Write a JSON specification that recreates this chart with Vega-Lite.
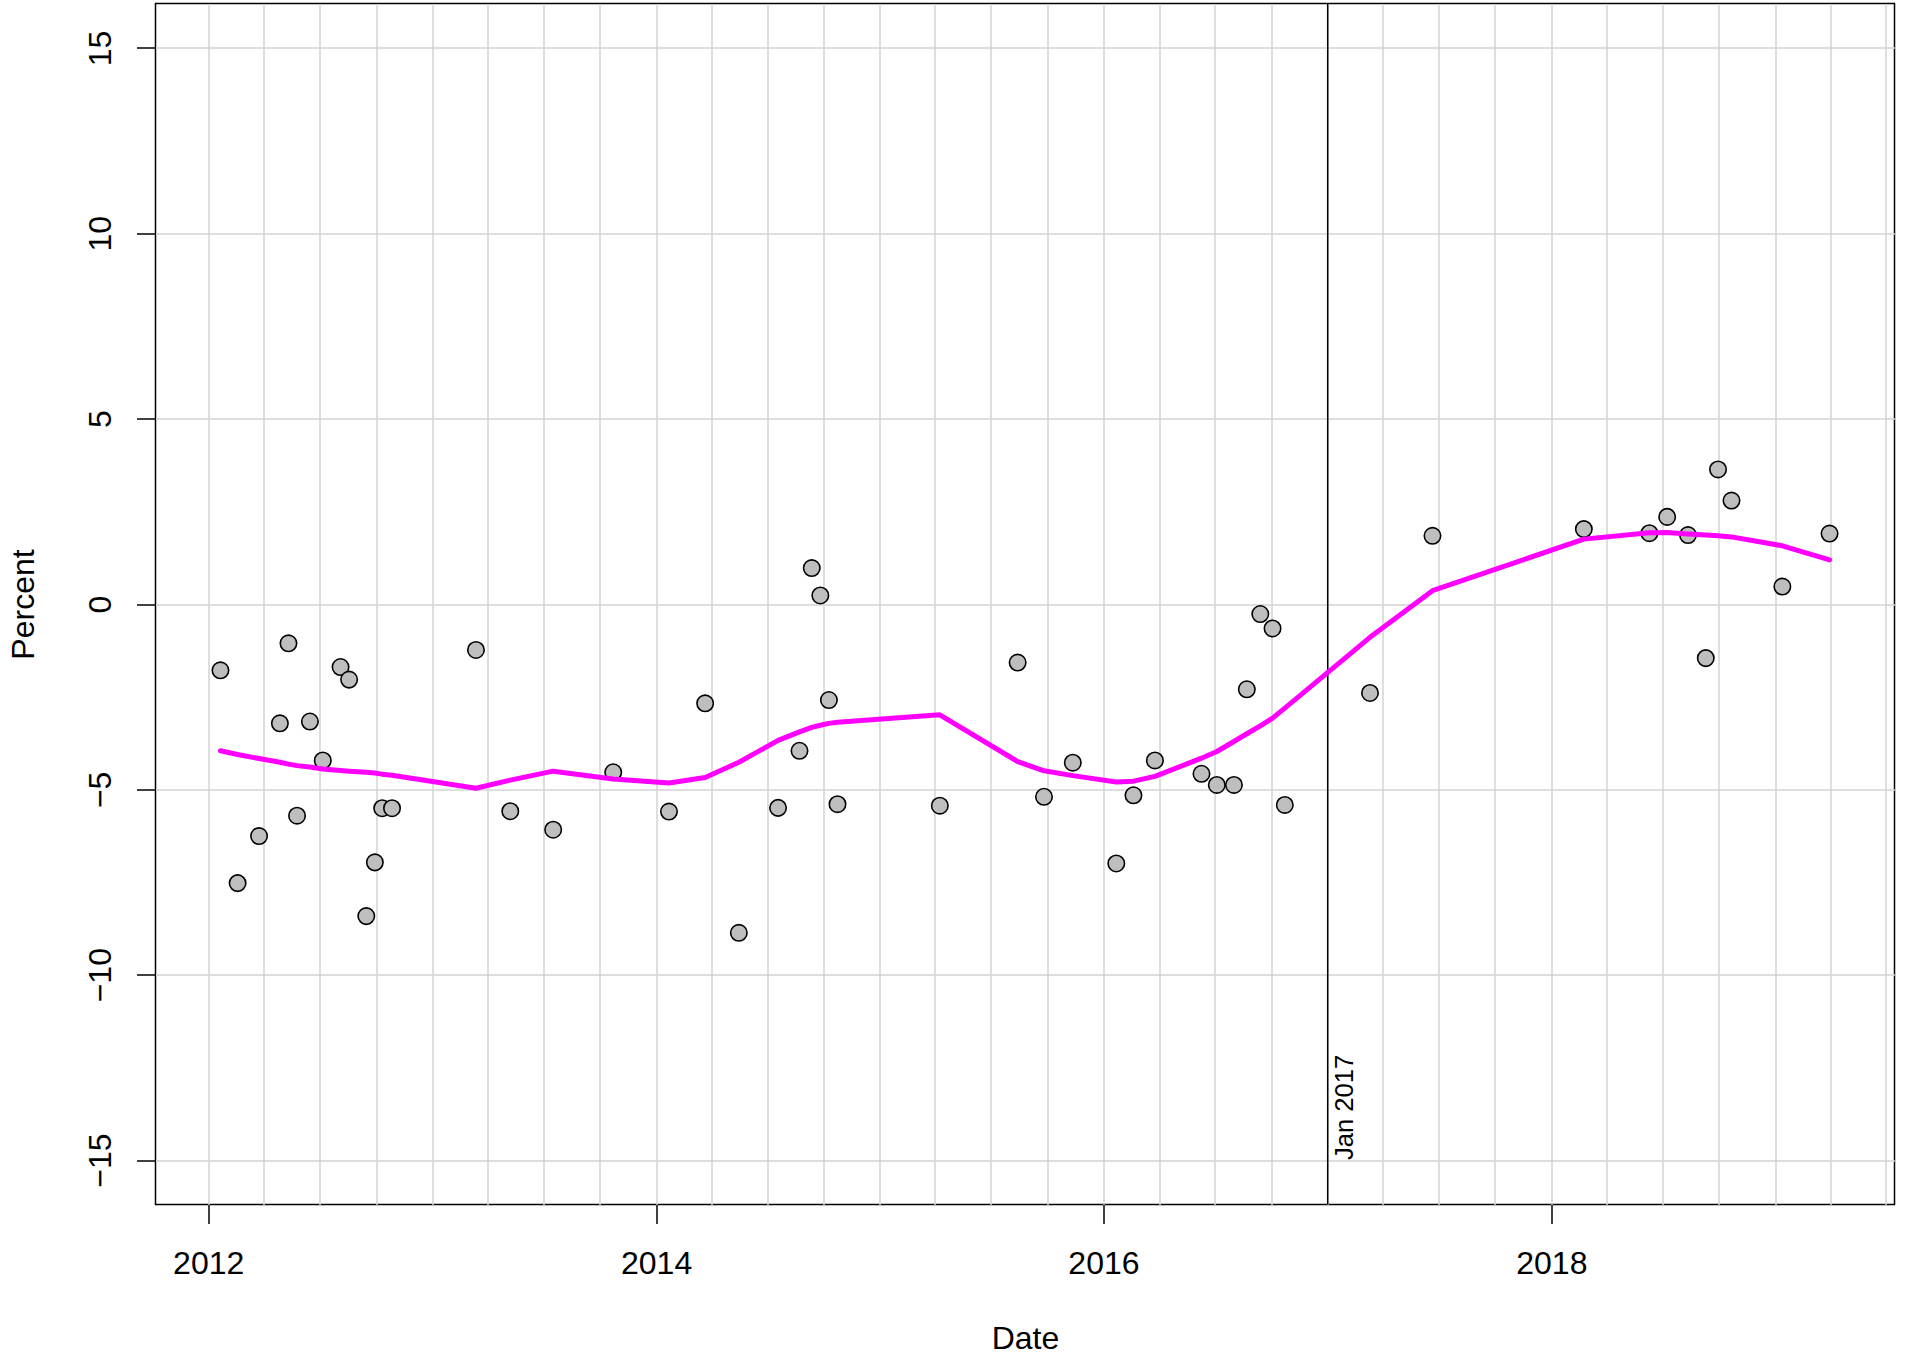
{
  "$schema": "https://vega.github.io/schema/vega-lite/v6.json",
  "width": 1739,
  "height": 1201,
  "autosize": "none",
  "padding": {"left": 155.5, "top": 3.5, "right": 10.5, "bottom": 151.5},
  "background": "white",
  "config": {
    "view": {"stroke": "black", "strokeWidth": 1.5},
    "font": "Liberation Sans",
    "axis": {
      "labelFont": "Liberation Sans",
      "titleFont": "Liberation Sans",
      "labelColor": "black",
      "titleColor": "black",
      "labelFontSize": 32,
      "titleFontSize": 32,
      "titleFontWeight": "normal",
      "tickColor": "black",
      "tickWidth": 1.5,
      "tickSize": 19,
      "domain": false,
      "gridColor": "#d3d3d3",
      "gridWidth": 1.5,
      "gridOpacity": 1,
      "labelOverlap": false,
      "labelFlush": false
    }
  },
  "datasets": {
    "obs": [
      {"date": "2012-01-21", "pct": -1.79, "fit": -3.96},
      {"date": "2012-02-18", "pct": -7.53, "fit": -4.06},
      {"date": "2012-03-24", "pct": -6.26, "fit": -4.17},
      {"date": "2012-04-27", "pct": -3.22, "fit": -4.27},
      {"date": "2012-05-11", "pct": -1.06, "fit": -4.32},
      {"date": "2012-05-25", "pct": -5.71, "fit": -4.36},
      {"date": "2012-06-15", "pct": -3.17, "fit": -4.40},
      {"date": "2012-07-06", "pct": -4.22, "fit": -4.45},
      {"date": "2012-08-04", "pct": -1.70, "fit": -4.49},
      {"date": "2012-08-18", "pct": -2.04, "fit": -4.51},
      {"date": "2012-09-15", "pct": -8.42, "fit": -4.54},
      {"date": "2012-09-29", "pct": -6.97, "fit": -4.56},
      {"date": "2012-10-11", "pct": -5.51, "fit": -4.59},
      {"date": "2012-10-27", "pct": -5.51, "fit": -4.62},
      {"date": "2013-03-13", "pct": -1.24, "fit": -4.97},
      {"date": "2013-05-08", "pct": -5.59, "fit": -4.75},
      {"date": "2013-07-17", "pct": -6.09, "fit": -4.51},
      {"date": "2013-10-23", "pct": -4.54, "fit": -4.72},
      {"date": "2014-01-22", "pct": -5.60, "fit": -4.83},
      {"date": "2014-03-22", "pct": -2.68, "fit": -4.68},
      {"date": "2014-05-16", "pct": -8.87, "fit": -4.27},
      {"date": "2014-07-19", "pct": -5.50, "fit": -3.68},
      {"date": "2014-08-23", "pct": -3.96, "fit": -3.45},
      {"date": "2014-09-12", "pct": 0.97, "fit": -3.33},
      {"date": "2014-09-26", "pct": 0.23, "fit": -3.27},
      {"date": "2014-10-10", "pct": -2.59, "fit": -3.22},
      {"date": "2014-10-24", "pct": -5.40, "fit": -3.19},
      {"date": "2015-04-09", "pct": -5.44, "fit": -2.99},
      {"date": "2015-08-14", "pct": -1.58, "fit": -4.25},
      {"date": "2015-09-26", "pct": -5.20, "fit": -4.50},
      {"date": "2015-11-12", "pct": -4.28, "fit": -4.63},
      {"date": "2016-01-22", "pct": -7.00, "fit": -4.80},
      {"date": "2016-02-19", "pct": -5.16, "fit": -4.78},
      {"date": "2016-03-25", "pct": -4.22, "fit": -4.65},
      {"date": "2016-06-09", "pct": -4.58, "fit": -4.16},
      {"date": "2016-07-04", "pct": -4.88, "fit": -3.98},
      {"date": "2016-08-01", "pct": -4.88, "fit": -3.71},
      {"date": "2016-08-22", "pct": -2.30, "fit": -3.50},
      {"date": "2016-09-13", "pct": -0.27, "fit": -3.29},
      {"date": "2016-10-03", "pct": -0.66, "fit": -3.08},
      {"date": "2016-10-23", "pct": -5.42, "fit": -2.81},
      {"date": "2017-03-11", "pct": -2.40, "fit": -0.90},
      {"date": "2017-06-21", "pct": 1.84, "fit": 0.36},
      {"date": "2018-02-23", "pct": 2.02, "fit": 1.75},
      {"date": "2018-06-10", "pct": 1.91, "fit": 1.92},
      {"date": "2018-07-09", "pct": 2.35, "fit": 1.93},
      {"date": "2018-08-12", "pct": 1.86, "fit": 1.89},
      {"date": "2018-09-10", "pct": -1.46, "fit": 1.86},
      {"date": "2018-09-30", "pct": 3.63, "fit": 1.84},
      {"date": "2018-10-22", "pct": 2.79, "fit": 1.81},
      {"date": "2019-01-13", "pct": 0.47, "fit": 1.57},
      {"date": "2019-03-31", "pct": 1.90, "fit": 1.19}
    ],
    "events": [
      {"date": "2017-01-01", "label": "Jan 2017"}
    ]
  },
  "layer": [
    {
      "data": {"name": "obs"},
      "mark": {"type": "point", "opacity": 0},
      "encoding": {
        "x": {
          "field": "date", "type": "temporal",
          "scale": {"type": "utc", "domain": [{"year": 2011, "month": 10, "date": 7, "utc": true}, {"year": 2019, "month": 7, "date": 15, "utc": true}]},
          "axis": {"orient": "bottom", "grid": true, "ticks": false, "labels": false, "title": null, "tickCount": {"interval": "month", "step": 3}}
        },
        "y": {
          "field": "pct", "type": "quantitative",
          "scale": {"domain": [-16.2, 16.2], "nice": false, "zero": false},
          "axis": {
            "values": [-15, -10, -5, 0, 5, 10, 15],
            "grid": true,
            "labelAngle": -90,
            "labelAlign": "center",
            "labelBaseline": "alphabetic",
            "labelPadding": 26,
            "title": "Percent",
            "titleAngle": 270,
            "titleAlign": "center",
            "titleBaseline": "alphabetic",
            "titleX": -122,
            "titleY": 600.5
          }
        }
      }
    },
    {
      "mark": {"type": "rule", "color": "black", "strokeWidth": 1.5},
      "encoding": {"y": {"datum": 0, "type": "quantitative"}}
    },
    {
      "data": {"name": "events"},
      "mark": {"type": "rule", "color": "black", "strokeWidth": 1.5},
      "encoding": {
        "x": {
          "field": "date", "type": "temporal",
          "scale": {"type": "utc", "domain": [{"year": 2011, "month": 10, "date": 7, "utc": true}, {"year": 2019, "month": 7, "date": 15, "utc": true}]},
          "axis": null
        }
      }
    },
    {
      "data": {"name": "obs"},
      "mark": {"type": "point", "shape": "circle", "filled": true, "fill": "#bebebe", "stroke": "black", "strokeWidth": 1.6, "size": 270, "opacity": 1},
      "encoding": {
        "x": {
          "field": "date", "type": "temporal",
          "scale": {"type": "utc", "domain": [{"year": 2011, "month": 10, "date": 7, "utc": true}, {"year": 2019, "month": 7, "date": 15, "utc": true}]},
          "axis": null
        },
        "y": {"field": "pct", "type": "quantitative"}
      }
    },
    {
      "data": {"name": "obs"},
      "mark": {"type": "line", "color": "#ff00ff", "strokeWidth": 5, "strokeCap": "round", "strokeJoin": "round"},
      "encoding": {
        "x": {
          "field": "date", "type": "temporal",
          "scale": {"type": "utc", "domain": [{"year": 2011, "month": 10, "date": 7, "utc": true}, {"year": 2019, "month": 7, "date": 15, "utc": true}]},
          "axis": {
            "orient": "bottom",
            "values": [
              {"year": 2012, "month": 1, "date": 1, "utc": true},
              {"year": 2014, "month": 1, "date": 1, "utc": true},
              {"year": 2016, "month": 1, "date": 1, "utc": true},
              {"year": 2018, "month": 1, "date": 1, "utc": true}
            ],
            "format": "%Y",
            "formatType": "utc",
            "grid": false,
            "labelAlign": "center",
            "labelBaseline": "alphabetic",
            "labelPadding": 50,
            "title": "Date",
            "titleAlign": "center",
            "titleBaseline": "alphabetic",
            "titleY": 144,
            "titleX": 869.5
          }
        },
        "y": {"field": "fit", "type": "quantitative"}
      }
    },
    {
      "data": {"name": "events"},
      "mark": {"type": "text", "angle": 270, "align": "left", "baseline": "top", "dy": 5, "fontSize": 25.6, "font": "Liberation Sans", "color": "black"},
      "encoding": {
        "x": {
          "field": "date", "type": "temporal",
          "scale": {"type": "utc", "domain": [{"year": 2011, "month": 10, "date": 7, "utc": true}, {"year": 2019, "month": 7, "date": 15, "utc": true}]},
          "axis": null
        },
        "y": {"datum": -15, "type": "quantitative"},
        "text": {"field": "label"}
      }
    }
  ],
  "resolve": {"axis": {"x": "independent"}}
}
